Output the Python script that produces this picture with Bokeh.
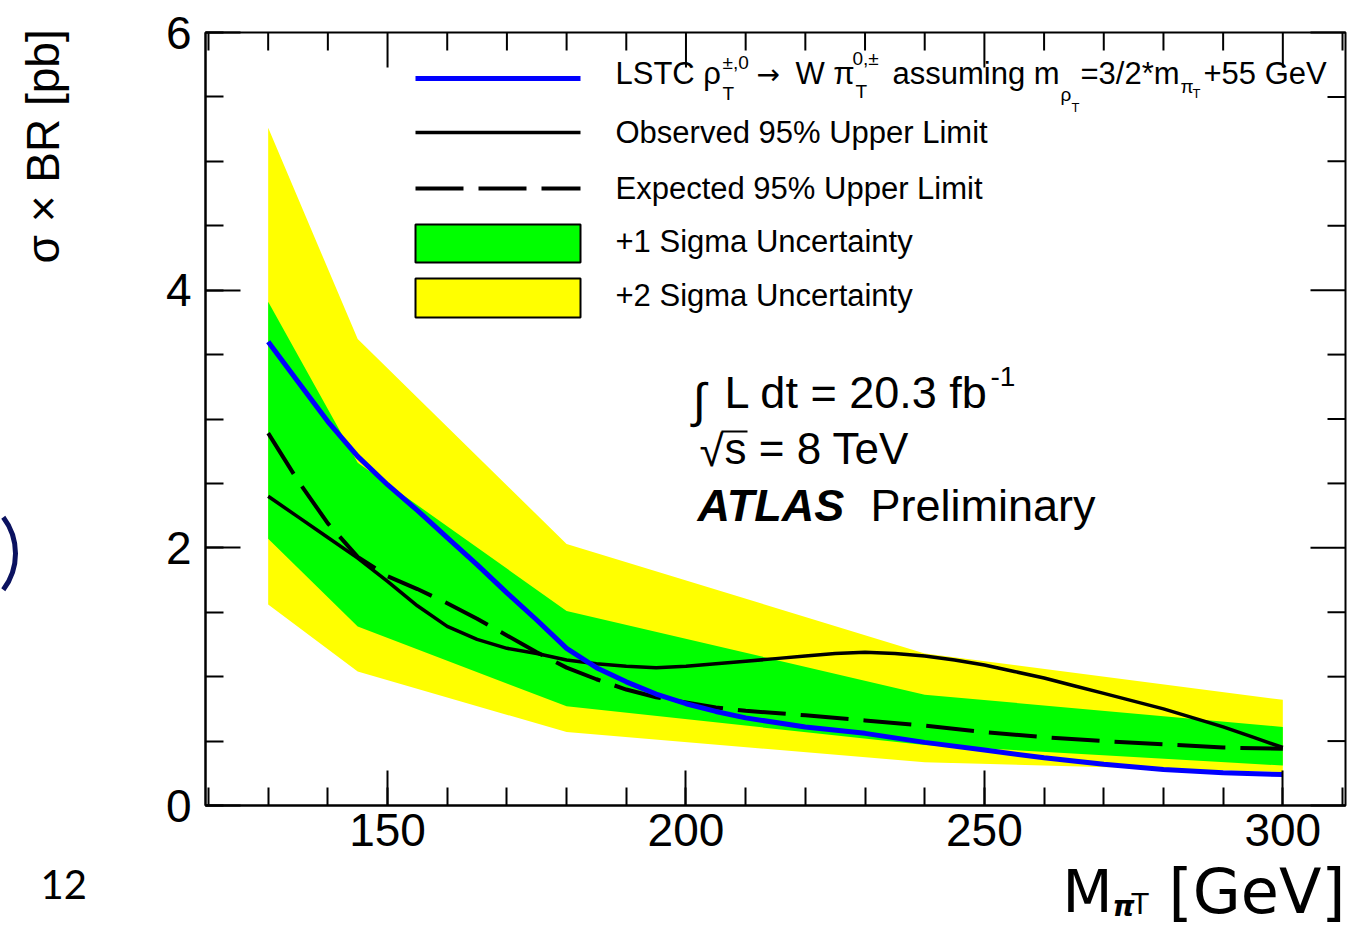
import math
from bokeh.plotting import figure
from bokeh.models import LinearAxis, FixedTicker, Label, Range1d
from bokeh.embed import file_html
from bokeh.resources import INLINE

# ---------------- data ----------------
mass_points = [130, 145, 180, 240, 300]
yellow_upper = [5.26, 3.62, 2.03, 1.18, 0.82]
green_upper = [3.91, 2.66, 1.51, 0.86, 0.61]
green_lower = [2.07, 1.39, 0.77, 0.47, 0.31]
yellow_lower = [1.56, 1.04, 0.57, 0.335, 0.26]

obs_mass = [130, 135, 140, 145, 150, 155, 160, 165, 170, 175, 180, 185, 190, 195, 200,
            205, 210, 215, 220, 225, 230, 235, 240, 245, 250, 255, 260, 265, 270, 275,
            280, 285, 290, 295, 300]
obs_limit = [2.40, 2.24, 2.08, 1.92, 1.74, 1.55, 1.39, 1.29, 1.22, 1.18, 1.13, 1.10, 1.08, 1.07, 1.08,
             1.10, 1.12, 1.14, 1.16, 1.18, 1.19, 1.18, 1.16, 1.13, 1.09, 1.04, 0.99, 0.93, 0.87, 0.81,
             0.75, 0.68, 0.61, 0.53, 0.45]

exp_mass = [130, 135, 140, 145, 150, 155, 160, 165, 170, 175, 180, 185, 190, 195, 200,
            205, 210, 220, 230, 240, 250, 260, 270, 280, 290, 300]
exp_limit = [2.89, 2.52, 2.19, 1.93, 1.78, 1.68, 1.57, 1.45, 1.32, 1.19, 1.07, 0.98, 0.90, 0.84, 0.80,
             0.76, 0.735, 0.70, 0.66, 0.62, 0.57, 0.53, 0.50, 0.475, 0.45, 0.44]

sig_mass = [130, 135, 140, 145, 150, 155, 160, 165, 170, 175, 180, 185, 190, 195, 200,
            205, 210, 220, 230, 240, 250, 260, 270, 280, 290, 300]
sig_xsec = [3.60, 3.29, 2.98, 2.71, 2.49, 2.29, 2.08, 1.87, 1.65, 1.44, 1.22, 1.07, 0.96, 0.865, 0.79,
            0.73, 0.68, 0.61, 0.56, 0.49, 0.43, 0.37, 0.32, 0.28, 0.255, 0.24]

x_major = [150, 200, 250, 300]
x_minor = list(range(120, 311, 10))
y_major = [0, 2, 4, 6]
y_minor = [0.5 * i for i in range(13)]

# ---------------- layout ----------------
W, H = 1367, 930
L, R, T, B = 205, 1345, 32, 805          # pixel box of the plot area
X0, X1, Y0, Y1 = 119.5, 310.5, 0.0, 6.0  # data box of the plot area
XPP = (X1 - X0) / (R - L)                # data units per pixel
YPP = (Y1 - Y0) / (B - T)


def xd(px):
    return X0 + (px - L) * XPP


def yd(py):
    return Y0 + (B - py) * YPP


# the Bokeh frame covers the whole canvas so that texts outside the box are not clipped
p = figure(width=W, height=H, output_backend="svg", toolbar_location=None,
           x_range=Range1d(xd(0), xd(W)), y_range=Range1d(yd(H), yd(0)),
           min_border=0, x_axis_location=None, y_axis_location=None)
p.xgrid.grid_line_color = None
p.ygrid.grid_line_color = None
p.outline_line_color = None
p.background_fill_color = "white"
p.border_fill_color = "white"

TICKFONT = "Liberation Sans"
TMAJ, TMIN = 35, 18


def style_axis(ax, ticks, minor):
    ax.ticker = FixedTicker(ticks=ticks, minor_ticks=minor)
    ax.axis_line_color = "black"
    ax.axis_line_width = 2
    ax.major_tick_in = TMAJ
    ax.major_tick_out = 0
    ax.minor_tick_in = TMIN
    ax.minor_tick_out = 0
    ax.major_tick_line_width = 2
    ax.minor_tick_line_width = 2
    ax.major_tick_line_color = "black"
    ax.minor_tick_line_color = "black"
    ax.major_label_text_font = TICKFONT
    ax.major_label_text_color = "black"
    ax.major_label_text_font_size = "46px"


xb = LinearAxis(fixed_location=Y0, bounds=(X0, X1))
style_axis(xb, x_major, x_minor)
xb.major_label_standoff = 8
p.add_layout(xb, "below")

yl = LinearAxis(fixed_location=X0, bounds=(Y0, Y1))
style_axis(yl, y_major, y_minor)
yl.major_label_standoff = 14
p.add_layout(yl, "left")

# ---------------- bands & curves ----------------
p.varea(x=mass_points, y1=yellow_lower, y2=yellow_upper, fill_color="#ffff00")
p.varea(x=mass_points, y1=green_lower, y2=green_upper, fill_color="#00ff00")
p.line(exp_mass, exp_limit, line_color="black", line_width=4, line_dash="48 15")
p.line(obs_mass, obs_limit, line_color="black", line_width=3.5)
p.line(sig_mass, sig_xsec, line_color="#0000ff", line_width=5)

# top and right tick marks (mirror of the axes) and the box outline
xt_all = [(t, TMAJ) for t in x_major] + [(t, TMIN) for t in x_minor if t not in x_major]
p.segment(x0=[t for t, _ in xt_all], x1=[t for t, _ in xt_all],
          y0=[Y1] * len(xt_all), y1=[Y1 - ln * YPP for _, ln in xt_all],
          line_color="black", line_width=2)
yt_all = [(t, TMAJ) for t in y_major] + [(t, TMIN) for t in y_minor if t not in y_major]
p.segment(x0=[X1] * len(yt_all), x1=[X1 - ln * XPP for _, ln in yt_all],
          y0=[t for t, _ in yt_all], y1=[t for t, _ in yt_all],
          line_color="black", line_width=2)
p.quad(left=X0, right=X1, bottom=Y0, top=Y1, fill_color=None, line_color="black", line_width=2)

# ---------------- legend ----------------
p.line([xd(415), xd(580)], [yd(78), yd(78)], line_color="#0000ff", line_width=5)
p.line([xd(415), xd(580)], [yd(132), yd(132)], line_color="black", line_width=3.5)
p.line([xd(415), xd(580)], [yd(188), yd(188)], line_color="black", line_width=4, line_dash="48 15")
p.quad(left=xd(415), right=xd(580), top=yd(224), bottom=yd(262),
       fill_color="#00ff00", line_color="black", line_width=2)
p.quad(left=xd(415), right=xd(580), top=yd(278), bottom=yd(317),
       fill_color="#ffff00", line_color="black", line_width=2)


def lab(px, py, text, size, font=TICKFONT, style="normal", align="left",
        baseline="middle", color="black", angle=0.0):
    p.add_layout(Label(x=xd(px), y=yd(py), text=text, text_font=font,
                       text_font_size=f"{size}px", text_font_style=style,
                       text_align=align, text_baseline=baseline,
                       text_color=color, angle=angle))


LF = 31
# first legend entry with sub/superscripts (py = vertical middle of the text)
lab(615, 73, "LSTC \u03c1", LF)
lab(722, 62, "\u00b1,0", 19)
lab(722, 93, "T", 19)
lab(756, 74, "\u2192", 28, font="DejaVu Sans")
lab(795, 73, "W \u03c0", LF)
lab(852, 58, "0,\u00b1", 19)
lab(855, 91, "T", 19)
lab(892, 73, "assuming m", LF)
lab(1060, 94, "\u03c1", 19)
lab(1071, 107, "T", 13)
lab(1080, 73, "=3/2*m", LF)
lab(1180, 86, "\u03c0", 19)
lab(1192, 93, "T", 13)
lab(1203, 73, "+55 GeV", LF)

lab(615, 132, "Observed 95% Upper Limit", LF)
lab(615, 188, "Expected 95% Upper Limit", LF)
lab(615, 241, "+1 Sigma Uncertainty", LF)
lab(615, 295, "+2 Sigma Uncertainty", LF)

# ATLAS texts
lab(692, 400, "\u222b", 48)
lab(724, 392, "L dt = 20.3 fb", 45)
lab(990, 376, "-1", 28)
lab(699, 450, "\u221a", 44)
p.line([xd(721), xd(747)], [yd(431), yd(431)], line_color="black", line_width=2)
lab(724, 448, "s = 8 TeV", 44)
lab(697, 505, "ATLAS", 45, style="bold italic")
lab(870, 505, "Preliminary", 45)

# y-axis title (rotated, top aligned like ROOT)
lab(42, 16, "\u03c3 \u00d7 BR  [pb]", 46, align="right", angle=math.pi / 2)

# slide texts around the chart
SF = "DejaVu Sans"
lab(1062, 891, "M", 58, font=SF)
lab(1112, 906, "\u03c0", 28, font=SF, style="bold italic")
lab(1131, 904, "T", 28, font=SF)
lab(1345, 891, "[GeV]", 62, font=SF, align="right")
lab(40, 884, "12", 40, font="Lato")

# part of a parenthesis of the slide, cut by the left edge
p.arc(x=xd(-45), y=yd(553), radius=60, radius_units="screen",
      start_angle=-0.65, end_angle=0.65, line_color="#0b1260", line_width=5)

open("out.html", "w").write(file_html(p, INLINE))
